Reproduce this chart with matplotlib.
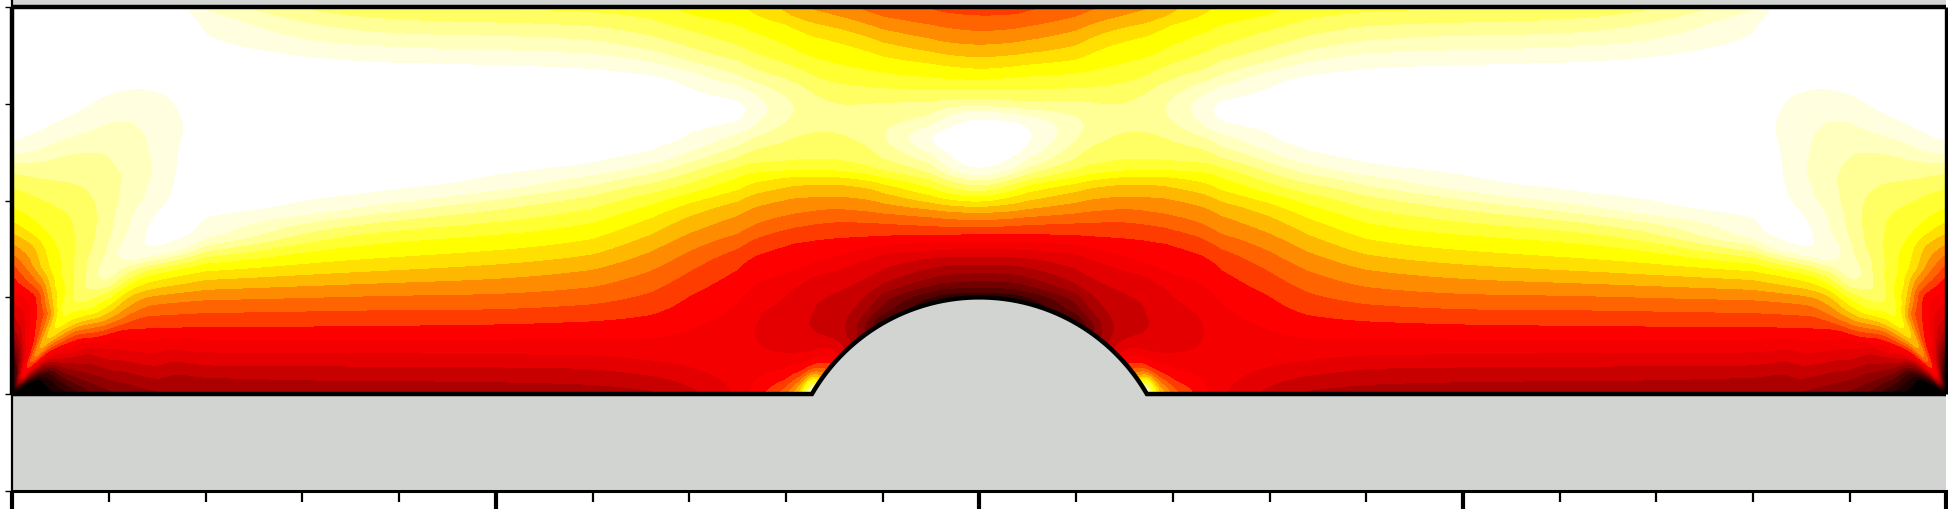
import numpy as np
import matplotlib
matplotlib.use("Agg")
import matplotlib.pyplot as plt
from matplotlib.colors import ListedColormap, BoundaryNorm

# ---- band colours, darkest to lightest -------------------------------------
band_colors = ["#000000", "#1e0000", "#370000", "#550000", "#730000", "#910000",
               "#ac0000", "#c80000", "#e40000", "#f50000", "#ff0000", "#ff3c00",
               "#ff6400", "#ff8c00", "#ffb800", "#ffe000", "#ffff00", "#ffff32",
               "#ffff64", "#ffff96", "#ffffbe", "#ffffe0", "#ffffff"]
gray_solid = "#d2d4d2"

# ---- field: (height, band value) for each station ----
col_000 = [(0, 0), (.25, 1), (.31, 2), (.37, 3), (.44, 4), (.52, 5), (.6, 6), (.7, 7), (.8, 8), (.92, 9), (1.05, 10), (1.26, 11), (1.345, 12), (1.41, 13), (1.55, 14), (1.69, 15), (1.81, 16), (1.93, 17), (2.15, 18), (2.295, 19), (2.40, 20), (2.48, 21), (2.585, 22), (3.1, 22.6), (4, 22.8)]
col_020 = [(0, 1), (.5, 9), (.9, 10.5), (1.08, 11), (1.15, 12), (1.22, 13), (1.29, 14), (1.45, 15), (1.6, 16), (1.81, 17), (2.07, 18), (2.25, 19), (2.4, 20), (2.5, 21), (2.63, 22), (3.2, 22.6), (4, 22.8)]
col_040 = [(0, 2), (.3, 7), (.6, 14), (.8, 14.3), (1.05, 14.5), (1.29, 16), (1.56, 17), (1.98, 18), (2.21, 19), (2.44, 20), (2.6, 21), (2.74, 22), (3.2, 22.6), (4, 22.8)]
col_060 = [(0, 1.9), (.03, 2), (.09, 3), (.16, 4), (.22, 5), (.28, 6), (.33, 7), (.39, 8), (.45, 9), (.51, 10), (.57, 11), (.62, 12), (.66, 13), (.70, 14), (.75, 15), (.80, 16), (.87, 17), (.93, 17.9), (1.05, 17.4), (1.29, 17.6), (1.6, 17.75), (1.88, 18), (2.2, 19), (2.5, 20), (2.67, 21), (2.85, 22), (3.3, 22.6), (4, 22.8)]
col_080 = [(0, 3.5), (.06, 4), (.17, 5), (.26, 6), (.33, 7), (.40, 8), (.46, 9), (.53, 10), (.62, 11), (.655, 12), (.69, 13), (.72, 14), (.76, 15), (.80, 16), (.87, 17), (.97, 18), (1.07, 19), (1.12, 19.1), (1.3, 19), (1.5, 18.7), (1.8, 18.4), (2.12, 19), (2.52, 20), (2.72, 21), (2.95, 22), (3.4, 22.6), (4, 22.8)]
col_100 = [(0, 4.6), (.08, 5), (.22, 6), (.33, 7), (.42, 8), (.5, 9), (.59, 10), (.69, 11), (.725, 12), (.76, 13), (.80, 14), (.845, 15), (.91, 16), (.99, 17), (1.05, 18), (1.11, 19), (1.2, 20), (1.3, 20.6), (1.53, 20), (2.0, 19.5), (2.52, 20), (2.84, 21), (3.09, 22), (3.5, 22.6), (4, 22.8)]
col_120 = [(0, 5.1), (.17, 6), (.29, 7), (.4, 8), (.49, 9), (.58, 10), (.67, 11), (.79, 12), (.87, 13), (.95, 14), (1.02, 15), (1.07, 16), (1.14, 17), (1.2, 18), (1.26, 19), (1.32, 20), (1.365, 21), (1.4, 22), (1.45, 22.1), (1.49, 22), (1.67, 21), (2.25, 20.05), (2.87, 21), (3.14, 22), (3.6, 22.6), (4, 22.8)]
col_140 = [(0, 5.5), (.13, 6), (.28, 7), (.39, 8), (.49, 9), (.58, 10), (.68, 11), (.81, 12), (.93, 13), (1.02, 14), (1.09, 15), (1.17, 16), (1.24, 17), (1.29, 18), (1.33, 19), (1.38, 20), (1.42, 21), (1.45, 22), (1.65, 22.3), (1.83, 22), (2.03, 21), (2.3, 20.6), (2.72, 21), (3.16, 22), (3.6, 22.6), (4, 22.8)]
col_170 = [(0, 5.9), (.04, 6), (.22, 7), (.34, 8), (.46, 9), (.58, 10), (.69, 11), (.83, 12), (.96, 13), (1.05, 14), (1.13, 15), (1.23, 16), (1.3, 17), (1.35, 18), (1.39, 19), (1.43, 20), (1.47, 21), (1.5, 22), (1.9, 22.6), (2.47, 22), (2.75, 21.6), (3.05, 22), (3.5, 22.6), (4, 22.8)]
col_200 = [(0, 5.95), (.05, 6), (.17, 7), (.29, 8), (.43, 9), (.57, 10), (.69, 11), (.845, 12), (.98, 13), (1.086, 14), (1.19, 15), (1.275, 16), (1.36, 17), (1.43, 18), (1.48, 19), (1.53, 20), (1.59, 21), (1.63, 22), (2.5, 23), (3.5, 22.6), (3.84, 22), (3.97, 21), (4, 20.8)]
col_300 = [(0, 6.4), (.15, 7), (.29, 8), (.43, 9), (.56, 10), (.70, 11), (.86, 12), (1.0, 13), (1.12, 14), (1.24, 15), (1.36, 16), (1.51, 17), (1.6, 18), (1.7, 19), (1.78, 20), (1.85, 21), (1.9, 22), (2.7, 23), (3.5, 22), (3.64, 21), (3.81, 20), (3.95, 19), (4, 18.6)]
col_400 = [(0, 6.4), (.15, 7), (.29, 8), (.43, 9), (.56, 10), (.71, 11), (.88, 12), (1.03, 13), (1.16, 14), (1.29, 15), (1.42, 16), (1.6, 17), (1.71, 18), (1.82, 19), (1.91, 20), (1.99, 21), (2.05, 22), (2.8, 23), (3.45, 22), (3.57, 21), (3.71, 20), (3.86, 19), (3.97, 18), (4, 17.8)]
col_500 = [(0, 6.5), (.14, 7), (.28, 8), (.41, 9), (.57, 10), (.72, 11), (.87, 12), (1.03, 13), (1.19, 14), (1.34, 15), (1.48, 16), (1.65, 17), (1.78, 18), (1.91, 19), (2.02, 20), (2.10, 21), (2.16, 22), (2.8, 23), (3.43, 22), (3.55, 21), (3.71, 20), (3.84, 19), (3.97, 18), (4, 17.8)]
col_600 = [(0, 6.6), (.12, 7), (.28, 8), (.41, 9), (.57, 10), (.76, 11), (.93, 12), (1.10, 13), (1.28, 14), (1.43, 15), (1.58, 16), (1.76, 17), (1.92, 18), (2.07, 19), (2.18, 20), (2.27, 21), (2.33, 22), (2.85, 23), (3.4, 22), (3.52, 21), (3.67, 20), (3.81, 19), (3.95, 18), (4, 17.6)]
col_660 = [(0, 6.7), (.07, 7), (.19, 8), (.33, 9), (.57, 10), (.81, 11), (1.05, 12), (1.29, 13), (1.5, 14), (1.67, 15), (1.84, 16), (1.97, 17), (2.09, 18), (2.19, 19), (2.29, 20), (2.38, 21), (2.47, 22), (2.9, 22.8), (3.34, 22), (3.43, 21), (3.55, 20), (3.69, 19), (3.88, 18), (4, 17.4)]
col_700 = [(0, 7.3), (.1, 8), (.29, 9), (.67, 10), (1.02, 11), (1.26, 12), (1.465, 13), (1.67, 14), (1.845, 15), (1.98, 16), (2.07, 17), (2.17, 18), (2.28, 19), (2.38, 20), (2.5, 21), (2.6, 22), (2.93, 22.6), (3.26, 22), (3.34, 21), (3.43, 20), (3.59, 19), (3.76, 18), (3.91, 17), (4, 16.6)]
col_750 = [(0, 9.3), (.3, 9.6), (.6, 9.4), (.98, 10), (1.36, 11), (1.53, 12), (1.67, 13), (1.88, 14), (2.02, 15), (2.14, 16), (2.29, 17), (2.38, 18), (2.47, 19), (2.6, 20), (2.71, 21), (2.79, 22), (2.93, 22.5), (3.05, 22), (3.17, 21), (3.26, 20), (3.43, 19), (3.57, 18), (3.8, 17), (4, 16)]
col_770 = [(0, 10.3), (.12, 10), (.45, 9), (.65, 8.85), (.85, 9), (1.13, 10), (1.46, 11), (1.62, 12), (1.76, 13), (1.95, 14), (2.08, 15), (2.19, 16), (2.3, 17), (2.39, 18), (2.55, 19), (2.67, 20), (2.78, 21), (2.95, 21.6), (3.12, 21), (3.22, 20), (3.35, 19), (3.52, 18), (3.73, 17), (3.93, 16), (4, 15.7)]
col_800 = [(0, 12.6), (.06, 12), (.12, 11), (.26, 10), (.38, 9), (.7, 8.5), (1.09, 9), (1.24, 10), (1.57, 11), (1.72, 12), (1.86, 13), (2.03, 14), (2.155, 15), (2.26, 16), (2.31, 17), (2.41, 18), (2.64, 19), (2.86, 20), (2.94, 20.3), (3.02, 20), (3.24, 19), (3.40, 18), (3.59, 17), (3.83, 16), (3.91, 15), (4, 14.6)]
col_815 = [(0, 15.5), (.05, 15), (.09, 14), (.12, 13), (.17, 12), (.22, 11), (.32, 10), (.4, 9), (.72, 8.1), (1.17, 9), (1.3, 10), (1.58, 11), (1.74, 12), (1.88, 13), (2.04, 14), (2.17, 15), (2.26, 16), (2.31, 17), (2.42, 18), (2.68, 19), (2.95, 19.9), (3.2, 19), (3.35, 18), (3.52, 17), (3.75, 16), (3.87, 15), (3.98, 14), (4, 13.9)]
col_822 = [(0, 19), (.09, 16), (.14, 15), (.165, 14), (.19, 13), (.215, 12), (.24, 11), (.33, 10), (.41, 9), (.72, 7.95), (1.2, 9), (1.32, 10), (1.59, 11), (1.75, 12), (1.89, 13), (2.04, 14), (2.17, 15), (2.26, 16), (2.31, 17), (2.42, 18), (2.7, 19), (2.95, 19.8), (3.15, 19), (3.31, 18), (3.49, 17), (3.72, 16), (3.85, 15), (3.97, 14), (4, 13.85)]
col_830 = [(0, 24), (.06, 24), (.13, 18), (.18, 16), (.2, 15), (.22, 14), (.24, 13), (.26, 12), (.295, 11), (.37, 10), (.43, 9), (.57, 8), (.75, 7.8), (.98, 8), (1.25, 9), (1.35, 10), (1.6, 11), (1.76, 12), (1.9, 13), (2.04, 14), (2.18, 15), (2.26, 16), (2.31, 17), (2.42, 18), (2.71, 19), (2.95, 19.7), (3.1, 19), (3.28, 18), (3.47, 17), (3.7, 16), (3.83, 15), (3.96, 14), (4, 13.8)]
col_850 = [(0, 12), (.32, 12), (.41, 10), (.53, 9), (.57, 8), (.8, 7.6), (1.05, 8), (1.28, 9), (1.41, 10), (1.62, 11), (1.79, 12), (1.93, 13), (2.05, 14), (2.19, 15), (2.26, 16), (2.31, 17), (2.43, 18), (2.74, 19), (2.86, 19.5), (2.98, 19), (3.21, 18), (3.41, 17), (3.65, 16), (3.79, 15), (3.91, 14), (4, 13.5)]
col_875 = [(0, 6.3), (.56, 6.3), (.67, 6.1), (.88, 7), (1.16, 8), (1.38, 9), (1.49, 10), (1.625, 11), (1.785, 12), (1.9, 13), (2.03, 14), (2.16, 15), (2.23, 16), (2.28, 17), (2.38, 18), (2.6, 19), (2.8, 19.55), (3.0, 19), (3.18, 18), (3.36, 17), (3.58, 16), (3.72, 15), (3.85, 14), (3.98, 13), (4, 12.8)]
col_900 = [(0, 2), (.76, 2), (.79, 3), (.83, 4), (.90, 5), (1.03, 6), (1.1, 7), (1.26, 8), (1.465, 9), (1.55, 10), (1.63, 11), (1.78, 12), (1.88, 13), (2.0, 14), (2.12, 15), (2.2, 16), (2.26, 17), (2.33, 18), (2.48, 19), (2.75, 19.6), (3.03, 19), (3.155, 18), (3.32, 17), (3.5, 16), (3.64, 15), (3.77, 14), (3.9, 13), (4, 12.2)]
col_950 = [(0, 1.5), (.95, 1.5), (.98, 2), (1.03, 3), (1.08, 4), (1.15, 5), (1.22, 6), (1.33, 7), (1.42, 8), (1.49, 9), (1.57, 10), (1.655, 11), (1.74, 12), (1.83, 13), (1.91, 14), (1.97, 15), (2.05, 16), (2.12, 17), (2.21, 18), (2.29, 19), (2.40, 20), (2.48, 21), (2.57, 22), (2.64, 22.8), (2.71, 22), (2.775, 21), (2.86, 20), (3.02, 19), (3.13, 18), (3.26, 17), (3.41, 16), (3.52, 15), (3.65, 14), (3.80, 13), (3.95, 12), (4, 11.8)]
col_975 = [(0, 1.5), (.985, 1.5), (1.0, 2), (1.04, 3), (1.09, 4), (1.16, 5), (1.24, 6), (1.34, 7), (1.425, 8), (1.5, 9), (1.58, 10), (1.655, 11), (1.73, 12), (1.81, 13), (1.89, 14), (1.95, 15), (2.01, 16), (2.06, 17), (2.13, 18), (2.2, 19), (2.25, 20), (2.3, 21), (2.34, 22), (2.6, 22.8), (2.84, 22), (2.91, 21), (2.97, 20), (3.04, 19), (3.13, 18), (3.25, 17), (3.38, 16), (3.49, 15), (3.62, 14), (3.77, 13), (3.92, 12), (4, 11.6)]
col_1000 = [(0, 1.5), (1.0, 1.5), (1.015, 2), (1.05, 3), (1.10, 4), (1.17, 5), (1.26, 6), (1.345, 7), (1.43, 8), (1.515, 9), (1.585, 10), (1.655, 11), (1.727, 12), (1.80, 13), (1.88, 14), (1.94, 15), (1.99, 16), (2.03, 17), (2.085, 18), (2.15, 19), (2.195, 20), (2.25, 21), (2.285, 22), (2.57, 23), (2.87, 22), (2.92, 21), (2.97, 20), (3.05, 19), (3.14, 18), (3.24, 17), (3.35, 16), (3.47, 15), (3.60, 14), (3.74, 13), (3.90, 12), (4, 11.5)]
col_1025 = [(0, 1.5), (.985, 1.5), (1.0, 2), (1.04, 3), (1.09, 4), (1.16, 5), (1.25, 6), (1.34, 7), (1.425, 8), (1.5, 9), (1.58, 10), (1.655, 11), (1.74, 12), (1.81, 13), (1.89, 14), (1.96, 15), (2.03, 16), (2.09, 17), (2.14, 18), (2.2, 19), (2.25, 20), (2.3, 21), (2.345, 22), (2.6, 22.9), (2.86, 22), (2.91, 21), (2.96, 20), (3.03, 19), (3.14, 18), (3.26, 17), (3.37, 16), (3.49, 15), (3.62, 14), (3.76, 13), (3.91, 12), (4, 11.5)]
col_1050 = [(0, 1.5), (.95, 1.5), (.98, 2), (1.03, 3), (1.08, 4), (1.15, 5), (1.24, 6), (1.33, 7), (1.42, 8), (1.5, 9), (1.58, 10), (1.655, 11), (1.76, 12), (1.83, 13), (1.91, 14), (2.0, 15), (2.09, 16), (2.17, 17), (2.22, 18), (2.275, 19), (2.34, 20), (2.41, 21), (2.5, 22), (2.66, 22.8), (2.82, 22), (2.88, 21), (2.94, 20), (3.0, 19), (3.14, 18), (3.28, 17), (3.40, 16), (3.51, 15), (3.64, 14), (3.78, 13), (3.92, 12), (4, 11.6)]
col_1100 = [(0, 2), (.76, 2), (.79, 3), (.83, 4), (.9, 5), (1.03, 6), (1.1, 7), (1.26, 8), (1.46, 9), (1.55, 10), (1.64, 11), (1.78, 12), (1.88, 13), (2.0, 14), (2.12, 15), (2.2, 16), (2.26, 17), (2.36, 18), (2.53, 19), (2.72, 20), (2.77, 20.2), (2.83, 20), (3.05, 19), (3.15, 18), (3.31, 17), (3.45, 16), (3.59, 15), (3.76, 14), (3.90, 13), (4, 12.5)]

left_stations = [0, .2, .4, .6, .8, 1, 1.2, 1.4, 1.7, 2, 3, 4, 5, 6, 6.6, 7, 7.5, 7.7, 8, 8.15, 8.22, 8.3, 8.5, 8.75, 9, 9.5, 9.75, 10, 10.25, 10.5, 11]
left_columns = [col_000, col_020, col_040, col_060, col_080, col_100, col_120, col_140, col_170, col_200, col_300, col_400, col_500, col_600, col_660, col_700, col_750, col_770, col_800, col_815, col_822, col_830, col_850, col_875, col_900, col_950, col_975, col_1000, col_1025, col_1050, col_1100]
mirrored_stations = [8.75, 8.5, 8.3, 8.22, 8.15, 8, 7.7, 7.5, 7, 6.6, 6, 5, 4, 3, 2, 1.7, 1.4, 1.2, 1, .8, .6, .4, .2, 0]

# corner fan: band value by distance from the corner and angle from the floor
fan_angle = [0, 30, 40, 45, 49, 52, 55, 57, 60, 63, 68, 75, 82, 90]
fan_r = [0.0, .05, .1, .2, .3, .45, .6, .75, .9, 1.05, 1.2, 1.35, 1.5, 1.7]
fan_r000 = [0, 0, 0, 0, 0, 0, 0, 0, 0, 0, 0, 0, 0, 0]
fan_r005 = [0, 0, .1, .2, .6, 1, 2, 3, 8, 3, 1, .2, 0, 0]
fan_r010 = [0, 0, .5, 1, 2, 3, 4.5, 6, 10, 6, 3, 1, .3, 0]
fan_r020 = [0, .2, 1.8, 3, 4.7, 6, 8, 9, 11.5, 9.5, 7, 4, 2, .8]
fan_r030 = [0, .5, 3.4, 5, 6.7, 8, 9.3, 10, 12.5, 11, 9, 6, 3.5, 1.5]
fan_r045 = [1, 3, 5.6, 7, 9, 10.5, 12, 13, 14, 11.5, 10.2, 8, 5.5, 4]
fan_r060 = [1.9, 6.5, 8.5, 9.5, 11, 12, 13.5, 14.5, 14.8, 12.5, 10.8, 9.7, 7.3, 6]
fan_r075 = [3.3, 7.8, 10, 11.2, 13, 14, 15.3, 15.8, 15, 13.5, 11.5, 10.2, 8.4, 7.5]
fan_r090 = [4.3, 8.3, 11, 12.6, 14.5, 15.5, 16.5, 16.9, 15.8, 14, 12, 10.6, 9.2, 8.7]
fan_r105 = [4.8, 9.6, 12.8, 14.6, 16, 16.6, 17.2, 17.5, 17.2, 16.3, 14.4, 11.2, 10.3, 10]
fan_r120 = [5.1, 10.2, 14.4, 16.3, 17.4, 17.85, 18.25, 18.2, 17.6, 16.9, 16.1, 13.5, 12.2, 10.7]
fan_r135 = [5.5, 11, 15, 16.8, 18, 18.8, 19.15, 18.8, 18.3, 17.7, 17, 15.6, 13.7, 11.9]
fan_r150 = [5.8, 11.6, 14.9, 17.4, 19.4, 20, 19.9, 19.4, 18.8, 18.3, 17.4, 16.3, 14.6, 13.5]
fan_r170 = [5.9, 12.2, 15.1, 18, 20.7, 21.3, 20.6, 20.2, 19.6, 18.9, 17.8, 17.1, 15.7, 15]

# geometry (data units) and ticks
x_max, y_top_wall, y_floor, y_base, y_view = 20, 4, 0, -1, 4.086
bump_cx, bump_cy, bump_r = 10, -1, 2
x_minor = list(range(0, 21))
x_major = [0, 5, 10, 15, 20]
y_ticks = [-1, 0, 1, 2, 3, 4]

# ---- build the field --------------------------------------------------------
xf = np.linspace(0, x_max, 2001)
yf = np.linspace(0, y_top_wall, 401)
stations = np.array(left_stations + [20 - s for s in mirrored_stations], float)
lookup = dict(zip(left_stations, left_columns))
columns = left_columns + [lookup[s] for s in mirrored_stations]
V = np.array([np.interp(yf, [p[0] for p in c], [p[1] for p in c]) for c in columns]).T

def blur(a, sig, axis):
    n = int(3 * sig)
    k = np.exp(-0.5 * (np.arange(-n, n + 1) / sig) ** 2)
    k /= k.sum()
    pad = [(0, 0), (0, 0)]
    pad[axis] = (n, n)
    a2 = np.pad(a, pad, mode="edge")
    return np.apply_along_axis(lambda r: np.convolve(r, k, mode="valid"), axis, a2)

V = blur(V, 4.0, 0)
# linear interpolation between stations, smoothed in station-index space so the
# smoothing width follows the local station spacing
per_seg = 30
s_grid = np.linspace(0, len(stations) - 1, (len(stations) - 1) * per_seg + 1)
i0 = np.clip(np.floor(s_grid).astype(int), 0, len(stations) - 2)
f0 = s_grid - i0
Vs = V[:, i0] * (1 - f0) + V[:, i0 + 1] * f0
Vs = blur(Vs, 14.0, 1)
s_of_x = np.interp(xf, stations, np.arange(len(stations)))
j0 = np.clip(np.floor(s_of_x * per_seg).astype(int), 0, Vs.shape[1] - 2)
g0 = s_of_x * per_seg - j0
F = Vs[:, j0] * (1 - g0) + Vs[:, j0 + 1] * g0

# corner fans
fan = np.array([fan_r000, fan_r005, fan_r010, fan_r020, fan_r030, fan_r045, fan_r060, fan_r075,
                fan_r090, fan_r105, fan_r120, fan_r135, fan_r150, fan_r170], float)
X, Y = np.meshgrid(xf, yf)
def fan_value(xx, yy):
    r = np.hypot(xx, yy)
    th = np.degrees(np.arctan2(yy, xx))
    ang = np.array(fan_angle, float)
    rad = np.array(fan_r, float)
    i = np.clip(np.searchsorted(rad, r, side="right") - 1, 0, len(rad) - 2)
    j = np.clip(np.searchsorted(ang, th, side="right") - 1, 0, len(ang) - 2)
    u = np.clip((r - rad[i]) / (rad[i + 1] - rad[i]), 0, 1)
    w = np.clip((th - ang[j]) / (ang[j + 1] - ang[j]), 0, 1)
    return ((1-u)*(1-w)*fan[i, j] + u*(1-w)*fan[i+1, j] + (1-u)*w*fan[i, j+1] + u*w*fan[i+1, j+1]), r
for xx in (X, x_max - X):
    val, r = fan_value(xx, Y)
    a = np.clip((1.78 - r) / 0.28, 0, 1)
    a = a * a * (3 - 2 * a)
    F = np.where(r < 1.78, a * val + (1 - a) * F, F)
F = blur(blur(F, 2.0, 0), 2.0, 1)

# ---- draw ---------------------------------------------------------------------
W, H = 1949, 510
fig = plt.figure(figsize=(W / 100, H / 100), dpi=100, facecolor="white")
ax = fig.add_axes([12.4 / W, (H - 491.7) / H, 1934.0 / W, 491.7 / H])
ax.set_xlim(0, x_max)
ax.set_ylim(y_base, y_view)

levels = np.arange(0, len(band_colors) + 1)
cmap = ListedColormap(band_colors)
norm = BoundaryNorm(levels, cmap.N)
ax.contourf(xf, yf, np.clip(F, 0, len(band_colors) - 0.001), levels=levels, cmap=cmap, norm=norm,
            antialiased=False, zorder=1)

ax.axhspan(y_base, y_floor, color=gray_solid, lw=0, zorder=2)
ax.axhspan(y_top_wall, y_view, color=gray_solid, lw=0, zorder=2)
half = np.sqrt(bump_r**2 - (y_floor - bump_cy)**2)
arc_x = np.linspace(bump_cx - half, bump_cx + half, 300)
arc_y = bump_cy + np.sqrt(bump_r**2 - (arc_x - bump_cx)**2)
ax.fill_between(arc_x, y_floor - 0.02, arc_y, color=gray_solid, lw=0, zorder=2)

line_kw = dict(color="black", lw=3.2, zorder=4, solid_capstyle="butt", solid_joinstyle="miter")
ax.plot(np.r_[0, arc_x, x_max], np.r_[y_floor, arc_y, y_floor], **line_kw)
ax.plot([0, x_max], [y_top_wall, y_top_wall], clip_on=False, **line_kw)
ax.plot([0, 0], [y_floor, y_top_wall], clip_on=False, **line_kw)
ax.plot([x_max, x_max], [y_floor, y_top_wall], clip_on=False, **{**line_kw, "lw": 2.4})

for s in ("top", "right"):
    ax.spines[s].set_visible(False)
ax.spines["left"].set_linewidth(1.6)
ax.spines["bottom"].set_linewidth(2.2)
ax.set_xticks(x_major)
ax.set_xticks(x_minor, minor=True)
ax.set_yticks(y_ticks)
ax.tick_params(axis="x", which="major", length=14, width=3, labelbottom=False)
ax.tick_params(axis="x", which="minor", length=8, width=1.6)
ax.tick_params(axis="y", which="major", length=5, width=1.0, labelleft=False)

fig.savefig("out.png", dpi=100, facecolor="white")
